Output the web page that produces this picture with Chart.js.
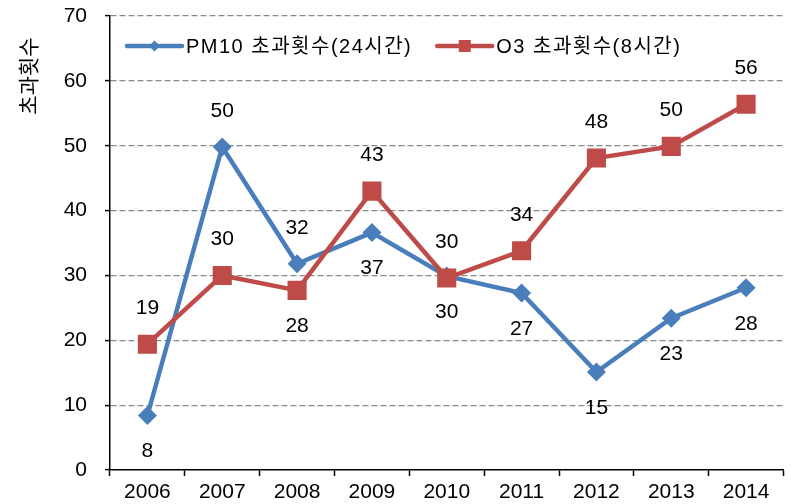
<!DOCTYPE html>
<html><head><meta charset="utf-8">
<script src="https://cdn.jsdelivr.net/npm/chart.js@4/dist/chart.umd.min.js"></script>
<style>html,body{margin:0;padding:0;background:#fff}#wrap{width:797px;height:504px}</style>
</head><body><div id="wrap"><canvas id="c" width="797" height="504"></canvas></div>
<script>
const years = ['2006','2007','2008','2009','2010','2011','2012','2013','2014'];
const pm10 = [8.4, 49.8, 31.8, 36.6, 29.9, 27.3, 15.1, 23.4, 28.1];
const o3 = [19.4, 30.0, 27.7, 43.0, 29.6, 33.8, 48.1, 49.9, 56.4];
const pm10LabelPos = ['below','above','above','below','below','below','below','below','below'];
const o3LabelPos = ['above','above','below','above','above','above','above','above','above'];
const seriesNames = ['PM10 초과횟수(24시간)', 'O3 초과횟수(8시간)'];
const yTitle = '초과횟수';
const yMin = 0, yMax = 70, yStep = 10;

const BLUE = '#4a7ebb', RED = '#be4b48';
const NUMFONT = "'Liberation Sans', Arial, 'Noto Sans CJK KR', sans-serif";
const KRFONT = "'Noto Sans CJK KR', 'Liberation Sans', sans-serif";

function drawMarker(ctx, style, x, y, r, color) {
  ctx.save();
  ctx.fillStyle = color;
  ctx.beginPath();
  if (style === 'rectRot') {
    ctx.moveTo(x - r, y); ctx.lineTo(x, y - r); ctx.lineTo(x + r, y); ctx.lineTo(x, y + r);
  } else {
    const s = r * Math.SQRT1_2;
    ctx.rect(x - s, y - s, 2 * s, 2 * s);
  }
  ctx.closePath();
  ctx.fill();
  ctx.restore();
}

const labelPlugin = {
  id: 'pointLabels',
  afterDatasetsDraw(chart) {
    const ctx = chart.ctx;
    ctx.save();
    ctx.font = "21px " + NUMFONT;
    ctx.fillStyle = '#000';
    ctx.textAlign = 'center';
    ctx.textBaseline = 'middle';
    chart.data.datasets.forEach((ds, di) => {
      const meta = chart.getDatasetMeta(di);
      meta.data.forEach((pt, i) => {
        const pos = ds.labelPos[i];
        const dy = pos === 'above' ? -36 : 36;
        ctx.fillText(String(Math.round(ds.data[i])), pt.x, pt.y + dy);
      });
    });
    ctx.restore();
  }
};

const legendPlugin = {
  id: 'customLegend',
  afterDraw(chart) {
    const ctx = chart.ctx;
    const area = chart.chartArea;
    ctx.save();
    ctx.font = "20px " + NUMFONT;
    try { ctx.letterSpacing = '1.5px'; } catch (e) {}
    ctx.textBaseline = 'middle';
    ctx.textAlign = 'left';
    let x = area.left + 17;
    const y = area.top + 30;
    chart.data.datasets.forEach((ds) => {
      ctx.strokeStyle = ds.borderColor;
      ctx.lineWidth = 4.5;
      ctx.lineCap = 'round';
      ctx.beginPath();
      ctx.moveTo(x, y); ctx.lineTo(x + 55, y); ctx.stroke();
      drawMarker(ctx, ds.pointStyle, x + 27.5, y, ds.pointStyle === 'rectRot' ? 5.5 : 8.5, ds.borderColor);
      ctx.fillStyle = '#000';
      ctx.fillText(ds.label, x + 59, y + 1);
      x += 59 + ctx.measureText(ds.label).width + 25;
    });
    try { ctx.letterSpacing = '0px'; } catch (e) {}
    // y axis title
    ctx.font = "21px " + KRFONT;
    ctx.textAlign = 'center';
    ctx.translate(28, area.top + 60);
    ctx.rotate(-Math.PI / 2);
    ctx.fillText(yTitle, 0, 0);
    ctx.restore();
  }
};

new Chart(document.getElementById('c'), {
  type: 'line',
  data: {
    labels: years,
    datasets: [
      { label: seriesNames[0], data: pm10, labelPos: pm10LabelPos, borderColor: BLUE, backgroundColor: BLUE,
        borderWidth: 4.5, pointStyle: 'rectRot', pointRadius: 9.5, pointBorderWidth: 0, tension: 0, order: 1 },
      { label: seriesNames[1], data: o3, labelPos: o3LabelPos, borderColor: RED, backgroundColor: RED,
        borderWidth: 4.5, pointStyle: 'rect', pointRadius: 13.5, pointBorderWidth: 0, tension: 0, order: 0 }
    ]
  },
  options: {
    responsive: false,
    animation: false,
    layout: { padding: { left: 0, top: 16, right: 6, bottom: 0 } },
    plugins: { legend: { display: false }, tooltip: { enabled: false } },
    scales: {
      x: {
        offset: true,
        grid: { display: true, drawOnChartArea: false, offset: true, tickLength: 6, tickColor: '#000', tickWidth: 1.5 },
        border: { color: '#000', width: 1.5 },
        ticks: { color: '#000', font: { family: NUMFONT, size: 21 }, padding: 4, maxRotation: 0, autoSkip: false },
        afterFit(s) { s.height = 34; s.paddingLeft = 0; s.paddingRight = 0; }
      },
      y: {
        min: yMin, max: yMax,
        grid: {
          color: (c) => (c.tick && c.tick.value === 0) ? 'rgba(0,0,0,0)' : '#8a8a8a',
          lineWidth: 1.2, tickLength: 5, tickColor: '#000', tickWidth: 1.5
        },
        border: { color: '#000', width: 1.5, dash: [6, 3] },
        ticks: { stepSize: yStep, color: '#000', font: { family: NUMFONT, size: 21 }, padding: 18 },
        afterFit(s) { s.width = 110; s.paddingTop = 0; s.paddingBottom = 0; }
      }
    }
  },
  plugins: [labelPlugin, legendPlugin]
});
</script>
</body></html>
